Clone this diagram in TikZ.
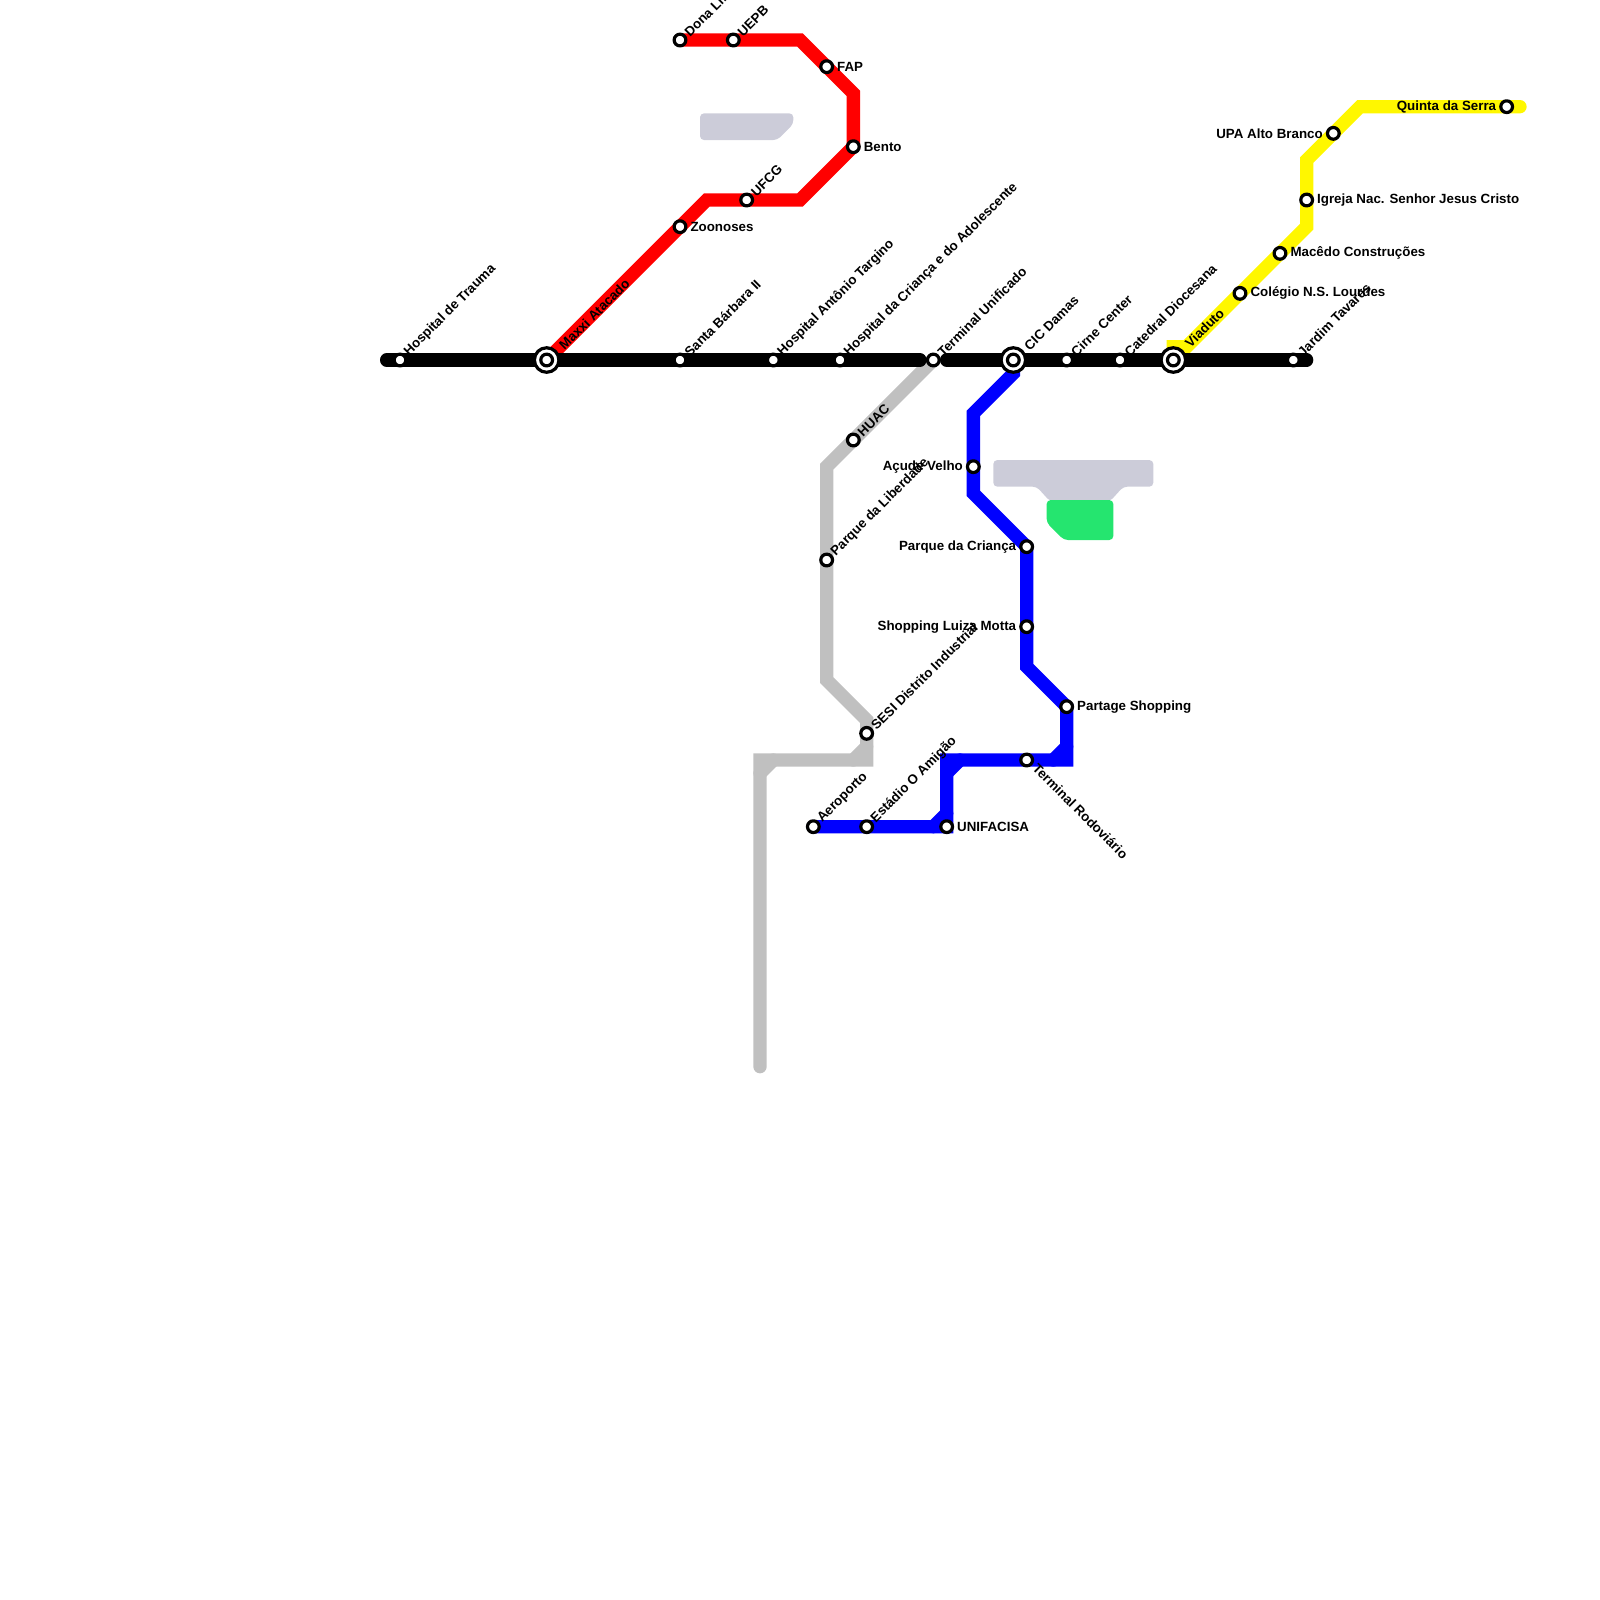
\documentclass[tikz,border=0pt]{standalone}
\usepackage{fontspec}
\setmainfont{Liberation Sans}
\usetikzlibrary{backgrounds}
\definecolor{lred}{RGB}{255,0,0}
\definecolor{lblue}{RGB}{0,0,255}
\definecolor{lyellow}{RGB}{255,247,0}
\definecolor{lsilver}{RGB}{192,192,192}
\definecolor{parkpale}{RGB}{204,204,217}
\definecolor{parkgreen}{RGB}{37,229,111}

\begin{document}
\begin{tikzpicture}[x=1mm,y=-1mm,line cap=round,line join=round,
font=\fontsize{1mm}{1.2mm}\selectfont\bfseries,
metroline/.style={line width=1mm,miter limit=10,line join=miter,line cap=round},
station/.style={circle,draw=black,fill=white,line width=.24mm,minimum size=.88mm,inner sep=0pt,outer sep=0pt},
hubring/.style={circle,draw=black,fill=white,line width=.24mm,minimum size=1.84mm,inner sep=0pt,outer sep=0pt},
upname/.style={anchor=west,rotate=45,inner sep=0pt},
downname/.style={anchor=west,rotate=-45,inner sep=0pt},
rightname/.style={anchor=west,inner sep=0pt},
leftname/.style={anchor=east,inner sep=0pt}]
\useasboundingbox (0,0) rectangle (120,120);
% stations
\foreach \id/\x/\y/\txt in {trauma/30/27/Hospital de Trauma,santa/51/27/Santa Bárbara II,targino/58/27/Hospital Antônio Targino,crianca/63/27/Hospital da Criança e do Adolescente,unificado/70/27/Terminal Unificado,cirne/80/27/Cirne Center,catedral/84/27/Catedral Diocesana,jardim/97/27/Jardim Tavares,dona/51/3/Dona Lindu,uepb/55/3/UEPB,ufcg/56/15/UFCG,huac/64/33/HUAC,liberdade/62/42/Parque da Liberdade,sesi/65/55/SESI Distrito Industrial,aeroporto/61/62/Aeroporto,amigao/65/62/Estádio O Amigão}{
\node[station] (\id) at (\x,\y) {};
\node[upname] (\id-name) at (\x+.45,\y-.4) {\txt};
}
\foreach \id/\x/\y/\txt in {fap/62/5/FAP,bento/64/11/Bento,zoonoses/51/17/Zoonoses,lourdes/93/22/Colégio N.S. Lourdes,macedo/96/19/Macêdo Construções,igreja/98/15/Igreja Nac. Senhor Jesus Cristo,partage/80/53/Partage Shopping,facisa/71/62/UNIFACISA}{
\node[station] (\id) at (\x,\y) {};
\node[rightname] (\id-name) at (\x+.72,\y) {\txt};
}
\foreach \id/\x/\y/\txt in {quinta/113/8/Quinta da Serra,upa/100/10/UPA Alto Branco,acude/73/35/Açude Velho,parque/77/41/Parque da Criança,luiza/77/47/Shopping Luiza Motta}{
\node[station] (\id) at (\x,\y) {};
\node[leftname] (\id-name) at (\x-.72,\y) {\txt};
}
\node[station] (rodoviaria) at (77,57) {};
\node[downname] (rodoviaria-name) at (77.6,57.4) {Terminal Rodoviário};
% interchanges
\foreach \id/\x/\y/\dx/\dy/\txt in {maxxi/41/27/1.05/-.9/Maxxi Atacado,damas/76/27/.95/-.85/CIC Damas,viaduto/88/27/1/-1.05/Viaduto}{
\node[hubring] (\id-ring) at (\x,\y) {};
\node[station] (\id) at (\x,\y) {};
\node[upname] (\id-name) at (\x+\dx,\y+\dy) {\txt};
}
% line ends
\coordinate (westend) at (29,27);
\coordinate (gapwest) at (69,27);
\coordinate (gapeast) at (71,27);
\coordinate (eastend) at (98,27);
\begin{scope}[on background layer]
% parks
\fill[parkpale,rounded corners=.3mm] (52.5,8.5)--(59.5,8.5)--(59.5,9.3)--(58.3,10.5)--(52.5,10.5)--cycle;
\fill[parkpale,rounded corners=.3mm] (74.5,34.5)--(86.5,34.5)--(86.5,36.5)--(84.25,36.5)--(83.25,37.6)--(78.75,37.6)--(77.75,36.5)--(74.5,36.5)--cycle;
\fill[parkgreen,rounded corners=.3mm] (78.5,37.5)--(83.5,37.5)--(83.5,40.5)--(79.8,40.5)--(78.5,39.2)--cycle;
% lines
\draw[metroline,lyellow] (viaduto.center)--(88,26)--(89,26)--(lourdes.center)--(macedo.center)--(98,17)--(igreja.center)--(98,12)--(upa.center)--(102,8)--(quinta.center)--(114,8);
\draw[metroline,lred] (maxxi.center)--(zoonoses.center)--(53,15)--(ufcg.center)--(60,15)--(bento.center)--(64,7)--(fap.center)--(60,3)--(uepb.center)--(dona.center);
\draw[metroline,lsilver] (unificado.center)--(huac.center)--(62,35)--(liberdade.center)--(62,51)--(65,54)--(sesi.center)--(65,57)--(57,57)--(57,80);
\draw[metroline,lsilver] (64,57)--(65,56);
\draw[metroline,lsilver] (57,58)--(58,57);
\draw[metroline,lblue] (damas.center)--(76,28)--(73,31)--(acude.center)--(73,37)--(parque.center)--(luiza.center)--(77,50)--(partage.center)--(80,57)--(rodoviaria.center)--(71,57)--(facisa.center)--(amigao.center)--(aeroporto.center);
\draw[metroline,lblue] (79,57)--(80,56);
\draw[metroline,lblue] (71,58)--(72,57);
\draw[metroline,lblue] (70,62)--(71,61);
\draw[metroline,black] (westend)--(gapwest);
\draw[metroline,black] (gapeast)--(eastend);
\end{scope}
\end{tikzpicture}
\end{document}
